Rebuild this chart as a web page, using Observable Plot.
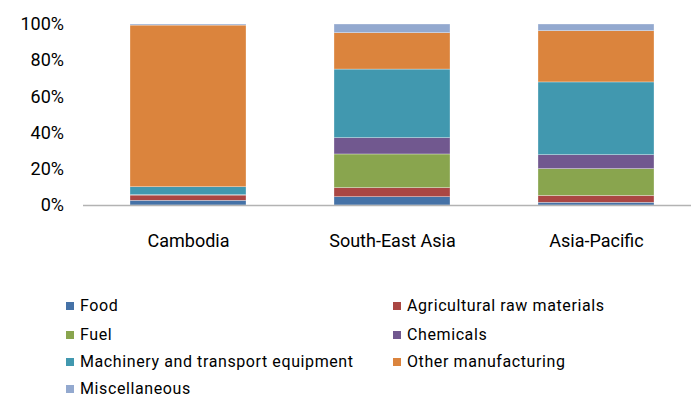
<!DOCTYPE html>
<html>
<head>
<meta charset="utf-8">
<script src="https://cdn.jsdelivr.net/npm/d3@7"></script>
<script src="https://cdn.jsdelivr.net/npm/@observablehq/plot@0.6"></script>
<style>
  body { margin: 0; background: #fff; font-family: Roboto, "Noto Sans", sans-serif; color: #000; }
  #chart svg { display: block; }
  .legend { position: relative; width: 691px; height: 138px; font-size: 16px; letter-spacing: 0.6px; }
  .legend .item { position: absolute; height: 14px; line-height: 14px; white-space: nowrap; }
  .legend .sw { display: inline-block; width: 8px; height: 8px; margin-right: 6px; vertical-align: 1px; }
</style>
</head>
<body>
<div id="chart"></div>
<script>
// Export composition by product group, share of total (%)
const regions = ["Cambodia", "South-East Asia", "Asia-Pacific"];
const groups = [
  "Food",
  "Agricultural raw materials",
  "Fuel",
  "Chemicals",
  "Machinery and transport equipment",
  "Other manufacturing",
  "Miscellaneous"
];
const food          = [2.6, 4.6, 1.5];
const agricultural  = [2.9, 5.0, 3.8];
const fuel          = [0.1, 18.6, 14.8];
const chemicals     = [0.1, 9.0, 7.7];
const machinery     = [4.4, 37.9, 40.2];
const otherManuf    = [89.3, 20.1, 28.3];
const miscellaneous = [0.6, 4.8, 3.7];
const yTicks = [0, 20, 40, 60, 80, 100];

const colors = ["#4572A7", "#AA4643", "#89A54E", "#71588F", "#4198AF", "#DB843D", "#93A9CF"];
const seriesValues = [food, agricultural, fuel, chemicals, machinery, otherManuf, miscellaneous];

const rows = [];
groups.forEach((g, i) => {
  regions.forEach((r, j) => rows.push({region: r, group: g, value: seriesValues[i][j]}));
});

const chart = Plot.plot({
  width: 691,
  height: 260,
  marginLeft: 83,
  marginRight: 0,
  marginTop: 24,
  marginBottom: 55,
  style: {fontFamily: "Roboto, sans-serif", background: "white"},
  x: {domain: regions, paddingInner: 0.43, paddingOuter: 0.2, align: 0.563, label: null},
  y: {domain: [0, 100], label: null},
  color: {domain: groups, range: colors},
  marks: [
    Plot.barY(rows, Plot.stackY({
      x: "region", y: "value", z: "group", fill: "group", order: groups,
      stroke: "white", strokeOpacity: 0.5, strokeWidth: 0.6
    })),
    Plot.ruleY([0], {stroke: "#b3b3b3", strokeWidth: 1.5}),
    Plot.axisY({ticks: yTicks, tickSize: 0, tickPadding: 19.5, tickFormat: d => d + "%", fontSize: 18, fill: "#000", label: null, style: {letterSpacing: "1.5px"}}),
    Plot.axisX({tickSize: 0, tickPadding: 29, fontSize: 18, fill: "#000", label: null, style: {letterSpacing: "1.3px"}})
  ]
});
document.getElementById("chart").appendChild(chart);

// Legend below the chart: two columns, four rows (row centres relative to the legend box)
const rowCentres = [46, 74.5, 102, 129];
const legend = document.createElement("div");
legend.className = "legend";
groups.forEach((g, i) => {
  const item = document.createElement("div");
  item.className = "item";
  item.style.left = (i % 2 === 0 ? 66 : 393) + "px";
  item.style.top = (rowCentres[Math.floor(i / 2)] - 7) + "px";
  const sw = document.createElement("span");
  sw.className = "sw";
  sw.style.background = colors[i];
  item.appendChild(sw);
  item.appendChild(document.createTextNode(g));
  legend.appendChild(item);
});
document.body.appendChild(legend);
</script>
</body>
</html>
